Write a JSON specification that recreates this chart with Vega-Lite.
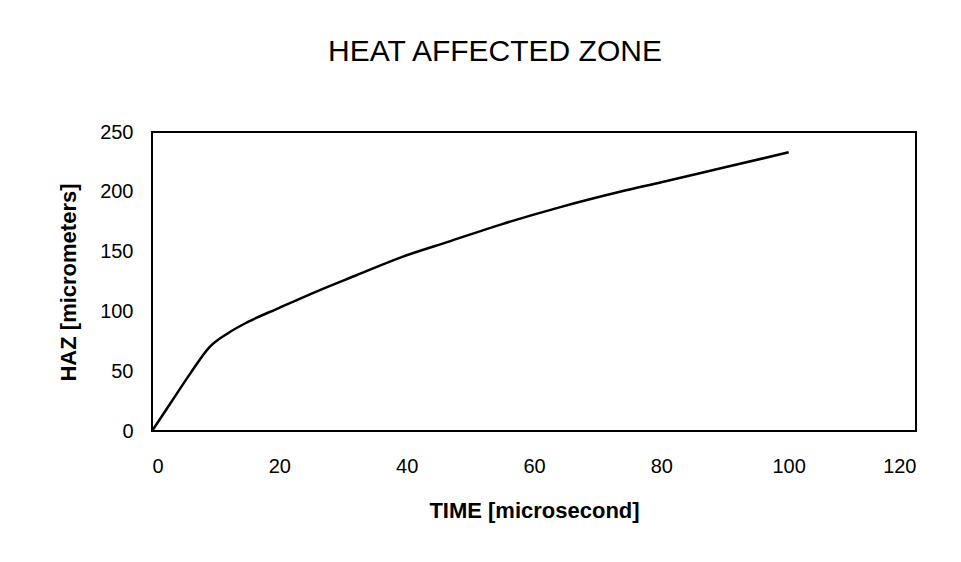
{
  "$schema": "https://vega.github.io/schema/vega-lite/v6.json",
  "autosize": "none",
  "width": 764,
  "height": 299,
  "padding": {"left": 152, "top": 132, "right": 45, "bottom": 131},
  "background": "white",
  "config": {
    "font": "Liberation Sans",
    "view": {"stroke": "black", "strokeWidth": 2}
  },
  "title": {
    "text": "HEAT AFFECTED ZONE",
    "fontSize": 30,
    "fontWeight": "normal",
    "color": "black",
    "anchor": "middle",
    "baseline": "alphabetic",
    "offset": 31,
    "dx": -39
  },
  "data": {
    "values": [
      {"t": 0, "haz": 0},
      {"t": 3, "haz": 24},
      {"t": 6, "haz": 48},
      {"t": 9, "haz": 70},
      {"t": 12, "haz": 82},
      {"t": 15, "haz": 91},
      {"t": 20, "haz": 103},
      {"t": 26, "haz": 117},
      {"t": 32, "haz": 130},
      {"t": 39, "haz": 145},
      {"t": 47, "haz": 159},
      {"t": 55, "haz": 173},
      {"t": 64, "haz": 187},
      {"t": 73.5, "haz": 200},
      {"t": 80, "haz": 208},
      {"t": 90, "haz": 220.5},
      {"t": 100, "haz": 233}
    ]
  },
  "mark": {"type": "line", "color": "black", "strokeWidth": 2.5, "interpolate": "monotone"},
  "encoding": {
    "x": {
      "field": "t",
      "type": "quantitative",
      "scale": {"domain": [0, 120], "nice": false},
      "axis": {
        "title": "TIME [microsecond]",
        "values": [0, 20, 40, 60, 80, 100, 120],
        "grid": false,
        "ticks": false,
        "tickSize": 0,
        "domain": false,
        "labelFontSize": 20,
        "labelColor": "black",
        "labelBaseline": "alphabetic",
        "labelPadding": 41,
        "titleFontSize": 22,
        "titleFontWeight": "bold",
        "titleColor": "black",
        "titleBaseline": "alphabetic",
        "titleY": 86,
        "titleX": 382
      }
    },
    "y": {
      "field": "haz",
      "type": "quantitative",
      "scale": {"domain": [0, 250], "nice": false},
      "axis": {
        "title": "HAZ [micrometers]",
        "values": [0, 50, 100, 150, 200, 250],
        "grid": false,
        "ticks": false,
        "tickSize": 0,
        "domain": false,
        "labelFontSize": 20,
        "labelColor": "black",
        "labelPadding": 19,
        "titleFontSize": 22,
        "titleFontWeight": "bold",
        "titleColor": "black",
        "titleX": -72,
        "titleY": 150
      }
    }
  }
}
